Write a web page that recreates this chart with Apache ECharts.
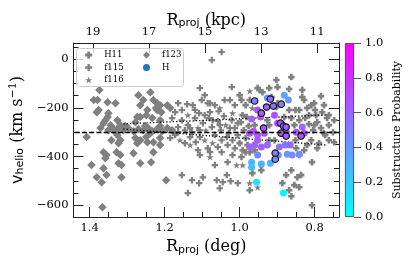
<!DOCTYPE html>
<html><head><meta charset="utf-8">
<script src="https://cdn.jsdelivr.net/npm/echarts@6/dist/echarts.min.js"></script>
<style>html,body{margin:0;padding:0;background:#fff}#c{width:415px;height:267px}</style>
</head><body><div id="c"></div>
<script>
// ---- data: [R_proj (deg), v_helio (km/s)] ----
const f123 = [
[1.374,-127],[1.379,-168],[1.389,-168],[1.352,-177],[1.376,-209],[1.331,-181],[1.352,-238],[1.270,-148],[1.238,-136],[1.257,-168],
[1.230,-168],[1.220,-181],[1.212,-189],[1.193,-189],[1.185,-201],[1.220,-209],[1.246,-209],[1.273,-238],[1.233,-242],[1.326,-251],
[1.363,-263],[1.344,-271],[1.318,-271],[1.265,-189],[1.381,-218],[1.350,-222],[1.358,-251],[1.265,-238],[1.278,-259],[1.249,-230],
[1.212,-251],[1.209,-218],[1.223,-201],
[1.371,-283],[1.350,-292],[1.336,-287],[1.323,-283],[1.310,-292],[1.297,-283],[1.283,-296],[1.270,-287],[1.257,-292],[1.244,-283],
[1.233,-296],[1.220,-287],[1.207,-296],[1.193,-283],[1.180,-292],[1.305,-275],[1.252,-275],[1.212,-275],[1.331,-300],[1.238,-304],
[1.408,-320],[1.342,-333],[1.318,-333],[1.323,-345],[1.326,-312],[1.278,-324],[1.265,-333],[1.249,-320],[1.212,-324],[1.230,-341],
[1.273,-345],[1.246,-341],[1.212,-353],[1.363,-382],[1.355,-394],[1.328,-382],[1.318,-394],[1.283,-386],[1.230,-382],[1.358,-407],
[1.395,-435],[1.363,-448],[1.323,-427],[1.315,-435],[1.265,-427],[1.236,-423],[1.381,-485],[1.355,-476],[1.315,-485],[1.368,-505],
[1.196,-497],[1.366,-608]
];
const h11 = [
[1.000,-148],[0.995,-168],[0.973,-168],[0.952,-119],[0.902,-86],[0.862,-74],[0.868,-123],[0.833,-127],[0.833,-156],[0.801,-181],
[0.947,-127],[0.915,-156],[0.899,-181],[0.902,-197],[0.841,-209],[0.820,-201],[0.796,-230],[0.992,-230],[0.899,-115],
[0.997,-259],[0.989,-292],[0.981,-238],[0.976,-275],[1.000,-345],[0.984,-324],[0.979,-353],[0.960,-271],[0.921,-271],[0.907,-333],
[0.862,-242],[0.854,-271],[0.851,-333],[0.868,-209],[0.881,-238],[0.921,-333],[0.926,-251],[0.825,-242],[0.815,-267],[0.804,-292],
[0.793,-259],[0.783,-283],[0.772,-312],[0.762,-271],[0.751,-300],[0.809,-333],[0.788,-345],[0.767,-242],[0.820,-353],[0.799,-209],
[0.748,-341],[0.780,-218],
[0.828,-168],[0.815,-230],[0.775,-189],[0.762,-230],[0.748,-251],[0.801,-271],[0.775,-304],[0.762,-333],[0.793,-366],[0.828,-374],
[0.849,-366],[0.841,-251],[0.851,-209],[0.939,-136],[0.984,-189],[0.921,-119],[0.960,-374],[0.984,-382],[0.783,-152],[0.809,-189],
[0.992,-374],[0.973,-538],[0.886,-509],[0.868,-538],[0.854,-517],[0.841,-526],[0.846,-485],[0.876,-476],[0.862,-456],[0.841,-394],
[0.807,-423],[0.862,-563],[0.807,-600],[0.942,-456],[0.995,-402],[0.966,-468],[0.836,-476],[0.973,-382]
];
const f115 = [
[1.048,29],[1.074,-4],[1.021,-115],[1.026,-168],[1.079,-181],[1.106,-119],[1.101,-168],[1.093,-148],[1.085,-181],[1.164,-181],
[1.140,-185],[1.125,-189],
[1.180,-242],[1.164,-279],[1.154,-251],[1.146,-292],[1.138,-271],[1.127,-300],[1.119,-242],[1.172,-312],[1.132,-320],[1.117,-341],
[1.108,-222],[1.098,-263],[1.106,-320],[1.082,-242],[1.074,-279],[1.066,-312],[1.058,-255],[1.050,-292],[1.042,-234],[1.029,-304],
[1.048,-333],[1.032,-353],[1.079,-218],[1.056,-214],[1.021,-251],[1.013,-283],[1.005,-312],[1.019,-333],
[1.172,-218],[1.154,-209],[1.119,-209],[1.093,-230],[1.066,-189],[1.040,-168],[1.013,-189],[1.072,-251],[1.106,-292],[1.132,-283],
[1.164,-300],[1.185,-324],[1.146,-345],[1.053,-271],[1.026,-283],[1.005,-263],[1.034,-320],[1.058,-361],[1.013,-366],[1.085,-366],
[1.111,-374],[1.032,-423],[1.066,-435],
[1.106,-394],[1.154,-476],[1.127,-497],[1.108,-509],[1.138,-550],[1.098,-485],[1.048,-382],[1.019,-394],[1.034,-476],[1.061,-497],
[1.045,-505],[1.053,-530],[1.024,-501],[1.005,-509],[1.079,-382]
];
const f116 = [
[0.973,-131],[1.111,-283],[1.138,-230],[1.090,-292],[1.037,-271],[1.093,-333],[1.072,-345],[1.132,-353],[1.079,-402],[1.008,-435],
[0.992,-435],[0.973,-509],[0.952,-526],[0.942,-435],[1.159,-333],[1.053,-201],[1.019,-222],[0.966,-201]
];
// H stars: [deg, v, substructure probability]
const hFill = [
[0.926,-160,0.42],[0.881,-148,0.35],[0.870,-168,0.40],[0.952,-209,0.68],[0.944,-238,0.70],[0.907,-230,0.68],[0.968,-246,0.60],
[0.899,-263,0.68],[0.973,-304,0.68],[0.963,-296,0.70],[0.952,-312,0.68],[0.934,-304,0.70],[0.876,-300,0.68],[0.849,-300,0.70],
[0.833,-279,0.60],[0.828,-304,0.68],[0.952,-333,0.65],[0.960,-353,0.60],[0.973,-361,0.62],[0.942,-361,0.62],[0.926,-353,0.60],
[0.894,-361,0.55],[0.878,-353,0.55],[0.865,-353,0.58],[0.952,-394,0.45],[0.897,-394,0.45],[0.873,-390,0.42],[0.860,-394,0.45],
[0.841,-390,0.45],[0.968,-423,0.30],[0.968,-444,0.25],[0.942,-431,0.30],[0.918,-427,0.30],[0.955,-505,0.10],[0.883,-550,0.05]
];
const hEdge = [
[0.960,-172,0.50],[0.918,-164,0.55],[0.928,-197,0.60],[0.910,-193,0.55],[0.889,-185,0.50],[0.942,-222,0.62],[0.936,-283,0.66],
[0.891,-263,0.66],[0.883,-275,0.66],[0.876,-279,0.62],[0.889,-304,0.66],[0.876,-316,0.64],[0.836,-316,0.66],[0.905,-386,0.50],
[0.905,-411,0.45]
];
const trendUpper = [[1.310,-266],[0.768,-229]];
const trendLower = [[1.310,-287],[0.768,-353]];
const meanV = -300;
// ---- axes ----
const degRange = [0.735, 1.443];
const kpcRange = [10.22, 19.70];
const vRange = [-648, 66];
const degTicks = [0.8, 1.0, 1.2, 1.4];
const degMinor = [0.75, 0.85, 0.9, 0.95, 1.05, 1.1, 1.15, 1.25, 1.3, 1.35];
const kpcTicks = [11, 13, 15, 17, 19];
const vTicks = [-600, -400, -200, 0];
const vMinor = [-550, -500, -450, -350, -300, -250, -150, -100, -50, 50];
const cbTicks = [0, 0.2, 0.4, 0.6, 0.8, 1.0];

const SERIF = 'DejaVu Serif', SANS = 'DejaVu Sans';
const AX = '#222';
const GRAY = '#808080';
const cool = p => 'rgb(' + Math.round(255 * p) + ',' + Math.round(255 * (1 - p)) + ',255)';
const minus = v => (v < 0 ? '\u2212' + Math.abs(v) : String(v));
const PLUS_FAT = 'path://M3,0H7V3H10V7H7V10H3V7H0V3H3Z';
const PLUS = 'path://M3.3,0H6.7V3.3H10V6.7H6.7V10H3.3V6.7H0V3.3H3.3Z';
const STAR = 'path://M5,0L6.12,3.45L9.76,3.45L6.82,5.59L7.94,9.05L5,6.91L2.06,9.05L3.18,5.59L0.24,3.45L3.88,3.45Z';
const DIAMOND = 'path://M5,0L10,5L5,10L0,5Z';

const tickLbl = {fontFamily: SERIF, fontSize: 11.5, color: '#000'};
const nameRich = {
  r: {fontFamily: SERIF, fontSize: 16, color: '#000'},
  s: {fontFamily: SANS, fontSize: 11, color: '#000', padding: [6, 0, 0, 0]},
  t: {fontFamily: SERIF, fontSize: 16, color: '#000'},
  v: {fontFamily: SANS, fontSize: 16, color: '#000'},
  u: {fontFamily: SERIF, fontSize: 11, color: '#000', padding: [0, 0, 8, 0]}
};
function majorAxis(extra) {
  return Object.assign({
    type: 'value', gridIndex: 0, splitLine: {show: false},
    axisLine: {show: true, onZero: false, lineStyle: {color: AX, width: 1}},
  }, extra);
}

const H = hFill.map(d => ({value: d, itemStyle: {color: cool(d[2])}, symbolSize: 7}))
  .concat(hEdge.map(d => ({value: d, itemStyle: {color: cool(d[2]), borderColor: '#111', borderWidth: 1.2}, symbolSize: 6.5})));

const legendText = {fontFamily: SERIF, fontSize: 8.5, lineHeight: 10, color: '#000'};
const option = {
  animation: false,
  textStyle: {fontFamily: SERIF},
  graphic: [{type: 'rect', left: 76, top: 48, z: 3, silent: true,
    shape: {width: 107, height: 38, r: 3},
    style: {fill: 'rgba(255,255,255,0.8)', stroke: '#cccccc', lineWidth: 1}}],
  grid: [
    {left: 73, top: 43, width: 266, height: 174},
    {left: 345, top: 43, width: 9, height: 174}
  ],
  xAxis: [
    majorAxis({position: 'bottom', min: degRange[0], max: degRange[1], inverse: true,
      axisTick: {inside: true, length: 10, customValues: degTicks, lineStyle: {color: AX}},
      axisLabel: {customValues: degTicks, margin: 5, formatter: v => v.toFixed(1), ...tickLbl},
      name: '{r|R}{s|proj}{t| (deg)}', nameLocation: 'middle', nameGap: 18, nameTextStyle: {rich: nameRich}}),
    majorAxis({position: 'bottom', min: degRange[0], max: degRange[1], inverse: true,
      axisLine: {show: false, onZero: false},
      axisTick: {inside: true, length: 5, customValues: degMinor, lineStyle: {color: AX}},
      axisLabel: {show: false}}),
    majorAxis({position: 'top', min: kpcRange[0], max: kpcRange[1], inverse: true,
      axisTick: {inside: true, length: 10, customValues: kpcTicks, lineStyle: {color: AX}},
      axisLabel: {customValues: kpcTicks, margin: 5, ...tickLbl},
      name: '{r|R}{s|proj}{t| (kpc)}', nameLocation: 'middle', nameGap: 14, nameMoveOverlap: false,
      nameTextStyle: {rich: nameRich}}),
    {type: 'category', gridIndex: 1, data: ['c'], show: false}
  ],
  yAxis: [
    majorAxis({position: 'left', min: vRange[0], max: vRange[1],
      axisTick: {inside: true, length: 10, customValues: vTicks, lineStyle: {color: AX}},
      axisLabel: {customValues: vTicks, margin: 5, formatter: minus, ...tickLbl},
      name: '{v|v}{s|helio}{t| (km s}{u|\u22121}{t|)}', nameLocation: 'middle', nameRotate: 90, nameGap: 45,
      nameTextStyle: {rich: nameRich}}),
    majorAxis({position: 'left', min: vRange[0], max: vRange[1], axisLine: {show: false, onZero: false},
      axisTick: {inside: true, length: 5, customValues: vMinor, lineStyle: {color: AX}}, axisLabel: {show: false}}),
    majorAxis({position: 'right', min: vRange[0], max: vRange[1],
      axisTick: {inside: true, length: 10, customValues: vTicks, lineStyle: {color: AX}}, axisLabel: {show: false}}),
    majorAxis({position: 'right', min: vRange[0], max: vRange[1], axisLine: {show: false, onZero: false},
      axisTick: {inside: true, length: 5, customValues: vMinor, lineStyle: {color: AX}}, axisLabel: {show: false}}),
    {type: 'value', gridIndex: 1, position: 'right', min: 0, max: 1, splitLine: {show: false},
      axisLine: {show: false},
      axisTick: {show: true, length: 7, customValues: cbTicks, lineStyle: {color: '#555'}},
      axisLabel: {customValues: cbTicks, margin: 11, formatter: v => v.toFixed(1), ...tickLbl},
      name: 'Substructure Probability', nameLocation: 'middle', nameRotate: 90, nameGap: 38,
      nameTextStyle: {fontFamily: SERIF, fontSize: 11, color: '#000'}}
  ],
  legend: [
    {data: ['H11', 'f115', 'f116'], orient: 'vertical', left: 85, top: 50, itemWidth: 21, itemHeight: 7, itemGap: 2.5,
      padding: 0, selectedMode: false, z: 5, textStyle: legendText},
    {data: ['f123', 'H'], orient: 'vertical', left: 143, top: 50, itemWidth: 21, itemHeight: 7, itemGap: 2.5,
      padding: 0, selectedMode: false, z: 5, textStyle: legendText}
  ],
  series: [
    {name: 'H11', type: 'scatter', xAxisIndex: 0, yAxisIndex: 0, data: h11, symbol: PLUS_FAT, symbolSize: 6.5,
      symbolKeepAspect: true, itemStyle: {color: GRAY, opacity: 1}, z: 2},
    {name: 'f115', type: 'scatter', xAxisIndex: 0, yAxisIndex: 0, data: f115, symbol: PLUS, symbolSize: 6.5,
      symbolKeepAspect: true, itemStyle: {color: GRAY, opacity: 1}, z: 2},
    {name: 'f116', type: 'scatter', xAxisIndex: 0, yAxisIndex: 0, data: f116, symbol: STAR, symbolSize: 7.5,
      symbolKeepAspect: true, itemStyle: {color: GRAY, opacity: 1}, z: 2},
    {name: 'f123', type: 'scatter', xAxisIndex: 0, yAxisIndex: 0, data: f123, symbol: DIAMOND, symbolSize: 8.5,
      symbolKeepAspect: true, itemStyle: {color: GRAY, opacity: 1}, z: 2},
    {name: 'trendUpper', type: 'line', xAxisIndex: 0, yAxisIndex: 0, data: trendUpper, symbol: 'none', showSymbol: false,
      lineStyle: {color: '#000', width: 1.3, type: [1.3, 2]}, z: 3,
      markLine: {silent: true, symbol: 'none', label: {show: false},
        lineStyle: {color: '#000', width: 1.3, type: [5, 2.2]}, data: [{yAxis: meanV}]}},
    {name: 'trendLower', type: 'line', xAxisIndex: 0, yAxisIndex: 0, data: trendLower, symbol: 'none', showSymbol: false,
      lineStyle: {color: '#000', width: 1.3, type: [1.3, 2]}, z: 3},
    {name: 'H', type: 'scatter', xAxisIndex: 0, yAxisIndex: 0, data: H, symbol: 'circle',
      itemStyle: {color: '#1f77b4', opacity: 1}, z: 4},
    {name: 'colorbar', type: 'bar', xAxisIndex: 3, yAxisIndex: 4, data: [1], barWidth: '100%', silent: true,
      itemStyle: {borderColor: '#333', borderWidth: 0.8,
        color: new echarts.graphic.LinearGradient(0, 0, 0, 1, [{offset: 0, color: '#ff00ff'}, {offset: 1, color: '#00ffff'}])}}
  ]
};
const chart = echarts.init(document.getElementById('c'), null, {renderer: 'canvas'});
chart.setOption(option);
</script></body></html>
